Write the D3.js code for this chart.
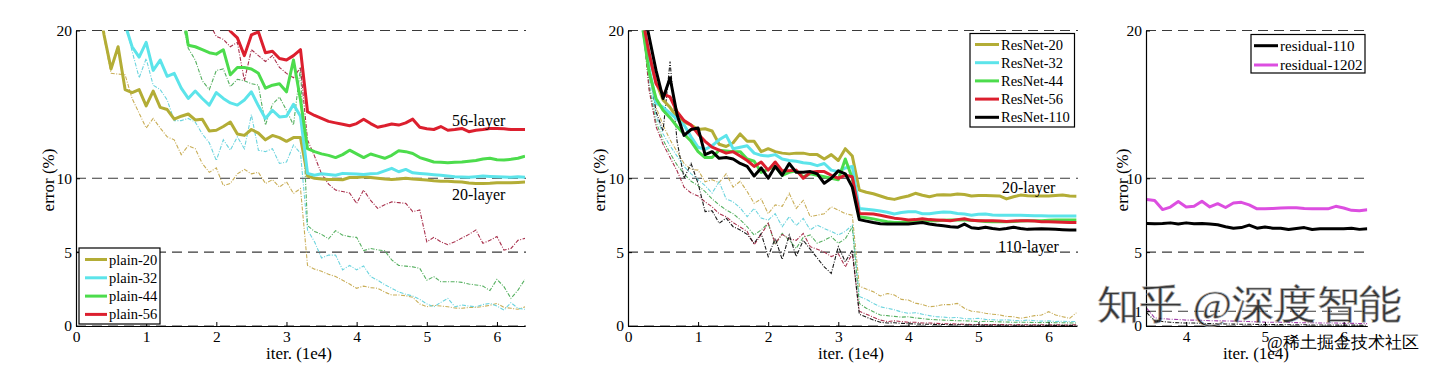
<!DOCTYPE html>
<html><head><meta charset="utf-8">
<script src="https://cdn.jsdelivr.net/npm/d3@7"></script>
<style>
body{margin:0;background:#fff}
svg{display:block}
text{font-family:"Liberation Serif","Times New Roman",serif;fill:#000}
</style>
</head><body>
<svg id="chart" width="1440" height="365"></svg>
<script>
// ---------- DATA ----------
const itersMain = [0.1,0.2,0.3,0.4,0.5,0.6,0.7,0.8,0.9,1.0,
  1.1,1.2,1.3,1.4,1.5,1.6,1.7,1.8,1.9,2.0,
  2.1,2.2,2.3,2.4,2.5,2.6,2.7,2.8,2.9,3.0,
  3.1,3.2,3.3,3.4,3.5,3.6,3.7,3.8,3.9,4.0,
  4.1,4.2,4.3,4.4,4.5,4.6,4.7,4.8,4.9,5.0,
  5.1,5.2,5.3,5.4,5.5,5.6,5.7,5.8,5.9,6.0,
  6.1,6.2,6.3,6.4];
const itersRight = [3.5,3.6,3.7,3.8,3.9,4.0,4.1,4.2,4.3,4.4,4.5,4.6,4.7,4.8,4.9,5.0,
  5.1,5.2,5.3,5.4,5.5,5.6,5.7,5.8,5.9,6.0,6.1,6.2,6.3];

const yTicksMain = [0,5,10,20];
const yTicksRight = [0,1,5,10,20];
const xTicksMain = [0,1,2,3,4,5,6];
const xTicksRight = [4,5,6];

// plain nets (left) — test error (thick) and training error (thin)
const plain20Test = [null,null,22.5,19.7,17.4,18.9,16.0,15.8,16.0,14.9,
  15.9,14.8,14.65,14.0,14.2,14.35,13.95,14.0,13.2,13.25,
  13.5,13.8,13.0,12.9,13.3,13.05,12.6,12.9,12.75,12.5,
  12.75,12.75,10.15,10.0,9.95,9.92,9.92,9.9,10.05,10.05,
  10.1,10.05,10.0,9.95,9.92,9.95,10.0,9.95,9.92,9.88,
  9.83,9.8,9.79,9.76,9.74,9.68,9.65,9.65,9.66,9.7,
  9.7,9.7,9.72,9.74];
const plain32Test = [null,null,null,null,null,null,20.4,18.9,18.2,19.2,
  17.3,18.0,16.9,17.1,16.1,15.4,15.9,15.4,14.95,15.8,
  15.4,15.1,14.95,15.3,15.85,14.9,14.05,14.6,14.15,14.2,
  15.0,14.2,10.33,10.2,10.3,10.25,10.2,10.33,10.3,10.28,
  10.25,10.3,10.33,10.5,10.67,10.44,10.6,10.37,10.32,10.28,
  10.24,10.2,10.15,10.1,10.08,10.06,10.1,10.15,10.12,10.1,
  10.08,10.06,10.1,10.06];
const plain44Test = [null,null,null,null,null,null,null,null,null,null,
  null,null,null,null,22.0,19.0,18.9,18.7,18.5,18.4,
  18.7,17.0,17.5,17.5,17.4,17.1,16.1,16.3,16.4,15.85,
  18.0,15.3,12.0,11.8,11.65,11.55,11.4,11.6,11.9,11.65,
  11.4,11.64,11.5,11.35,11.55,11.86,11.8,11.68,11.4,11.25,
  11.1,11.08,11.05,11.08,11.1,11.15,11.2,11.3,11.35,11.25,
  11.23,11.28,11.35,11.5];
const plain56Test = [null,null,null,null,null,null,null,null,null,null,
  null,null,null,null,null,null,null,null,null,null,
  20.8,19.95,19.5,18.3,19.7,19.9,18.5,18.6,18.1,18.0,
  18.3,18.7,14.5,14.25,14.05,13.85,13.75,13.65,13.55,13.7,
  14.0,13.7,13.45,13.55,13.67,13.6,13.75,14.0,13.45,13.35,
  13.3,13.5,13.25,13.3,13.37,13.15,13.25,13.3,13.37,13.37,
  13.35,13.3,13.3,13.3];
const plain20Train = [null,null,23,19.5,17.1,17.05,17.0,15.4,14.4,13.4,
  14.05,13.4,12.8,12.6,11.6,12.2,12.0,11.0,10.4,10.7,
  9.5,9.65,10.3,10.6,10.3,10.4,9.65,9.9,9.4,9.76,
  8.97,9.3,4.1,3.85,3.7,3.5,3.35,3.1,2.84,2.55,
  2.7,2.6,2.55,2.3,2.1,2.1,2.05,1.94,1.49,1.3,
  1.4,1.35,1.3,1.22,1.2,1.25,1.26,1.32,1.4,1.53,
  1.26,1.2,1.13,1.3];
const plain32Train = [null,null,null,null,null,22,20.5,18.6,16.8,18.1,
  16.3,16.0,15.3,13.9,13.9,14.05,13.8,13.0,12.4,11.2,
  12.6,11.9,12.8,12.0,14.3,11.9,11.8,12.0,11.0,11.1,
  12.25,11.7,6.5,5.7,4.6,4.8,4.8,3.8,4.1,3.8,
  4.06,3.34,3.1,2.8,2.55,2.3,2.15,2.03,1.8,1.5,
  1.3,1.6,1.87,1.3,1.42,1.35,1.3,1.45,1.53,1.35,
  1.08,1.58,1.2,1.13];
const plain44Train = [null,null,null,null,null,null,null,null,null,null,
  null,null,null,null,21,18.8,18.0,16.6,16.0,17.3,
  17.4,16.2,16.7,16.6,16.4,16.3,13.6,15.0,15.5,14.6,
  13.6,17.5,6.8,6.4,6.2,5.9,6.45,6.15,6.05,6.0,
  5.1,5.25,5.15,5.1,4.47,4.1,4.05,4.0,3.9,3.1,
  3.34,3.0,3.0,3.0,2.95,2.84,2.78,2.7,2.4,3.16,
  2.66,1.87,2.43,3.16];
const plain56Train = [null,null,null,null,null,null,null,null,null,null,
  null,null,null,null,null,null,null,null,20.5,19.6,
  19.4,18.9,19.2,16.6,18.7,18.3,17.9,18.3,17.5,17.1,
  16.8,17.5,12.6,11.5,10.3,9.6,9.2,9.1,9.0,8.3,
  9.2,8.5,7.96,8.2,8.4,8.35,8.3,7.74,7.85,5.7,
  6.0,5.7,5.5,5.7,5.95,6.2,6.5,5.6,5.8,6.05,
  5.14,5.25,5.8,5.93];

// ResNets (middle)
const res20Test = [null,20.5,18.3,16.5,15.3,14.8,14.1,13.8,13.6,13.3,
  13.35,13.2,12.3,12.15,12.4,13.0,12.5,12.5,11.8,12.0,
  11.8,11.7,11.65,11.7,11.7,11.6,11.6,11.3,11.6,11.2,
  12.0,11.5,9.2,9.05,8.95,8.8,8.65,8.57,8.7,8.8,
  8.98,8.85,8.75,8.86,8.88,8.86,8.93,8.9,8.8,8.84,
  8.84,8.82,8.8,8.6,8.75,8.86,8.82,8.8,8.8,8.8,
  8.84,8.86,8.8,8.78];
const res32Test = [null,20.5,17.5,15.1,14.8,14.4,14.0,13.6,12.8,12.1,
  11.95,12.2,12.6,12.9,12.0,12.1,12.2,11.7,11.55,11.5,
  11.6,11.3,11.2,11.15,11.05,11.0,10.85,11.0,10.55,10.45,
  10.7,10.8,7.96,7.9,7.85,7.78,7.7,7.58,7.68,7.74,
  7.74,7.6,7.6,7.67,7.72,7.7,7.62,7.58,7.5,7.56,
  7.58,7.52,7.5,7.5,7.5,7.5,7.48,7.46,7.46,7.44,
  7.44,7.44,7.44,7.44];
const res44Test = [null,20.5,17.2,15.4,14.6,14.1,13.5,13.0,12.5,11.8,
  11.4,11.4,11.9,11.85,11.8,11.8,11.3,11.15,10.4,10.6,
  10.8,10.2,10.4,10.5,10.1,10.3,10.2,10.1,10.0,9.9,
  11.3,10.0,7.4,7.32,7.25,7.15,7.05,7.0,7.02,7.06,
  7.1,7.13,7.13,7.13,7.15,7.17,7.17,7.17,7.15,7.13,
  7.08,7.06,7.06,7.06,7.08,7.1,7.13,7.13,7.13,7.15,
  7.17,7.17,7.17,7.17];
const res56Test = [null,21,18.5,16.4,15.7,15.5,14.5,13.9,13.6,13.0,
  12.5,12.1,11.9,11.7,11.8,11.5,11.2,10.8,11.1,10.55,
  11.1,10.5,10.5,10.55,10.0,10.4,10.45,10.45,10.2,10.0,
  10.2,10.1,7.62,7.6,7.58,7.5,7.4,7.3,7.25,7.18,
  7.2,7.26,7.2,7.17,7.15,7.13,7.2,7.26,7.15,7.13,
  7.13,7.12,7.1,7.08,7.1,7.13,7.13,7.1,7.06,7.06,
  7.04,7.02,7.0,7.0];
const res110Test = [null,22,19.6,17.3,15.4,16.8,14.3,12.9,13.3,13.4,
  11.6,11.8,11.35,11.4,11.3,11.0,10.8,10.15,10.7,10.0,
  10.8,10.2,11.0,10.4,10.4,10.45,10.3,9.66,10.0,10.5,
  10.3,9.4,7.2,7.1,7.0,6.92,6.9,6.9,6.9,6.9,
  6.95,7.0,6.9,6.83,6.78,6.72,6.68,6.9,6.65,6.6,
  6.68,6.6,6.54,6.6,6.68,6.6,6.54,6.56,6.59,6.56,
  6.54,6.52,6.5,6.5];
const res20Train = [null,21,17.0,14.8,13.6,12.6,11.8,11.0,10.6,10.55,
  9.76,9.9,9.7,10.3,9.4,9.8,9.1,8.3,8.6,7.6,
  8.2,8.1,8.98,7.96,8.5,7.4,7.5,7.6,8.07,7.85,
  7.6,7.5,2.7,2.5,2.32,2.03,2.2,2.1,1.8,1.76,
  1.55,1.45,1.3,1.35,1.45,1.45,1.53,1.2,1.0,0.95,
  0.86,0.8,0.75,0.65,0.63,0.52,0.6,0.7,0.74,0.97,
  0.75,0.63,0.52,0.9];
const res32Train = [null,21,16.5,14.2,13.0,12.2,11.5,10.8,10.3,9.9,
  9.5,9.0,9.76,8.6,8.4,8.0,7.4,7.96,7.3,7.17,
  7.6,6.72,7.4,6.8,7.28,6.5,6.83,6.6,6.4,6.16,
  6.4,6.83,2.0,1.8,1.53,1.3,1.2,1.1,0.95,0.86,
  0.9,0.8,0.7,0.63,0.6,0.55,0.58,0.5,0.48,0.52,
  0.45,0.42,0.4,0.42,0.38,0.35,0.4,0.36,0.33,0.35,
  0.3,0.32,0.3,0.3];
const res44Train = [null,21,16.2,13.8,12.6,11.7,10.9,10.3,9.8,9.5,
  9.1,8.6,8.2,7.85,7.6,7.2,6.72,6.16,6.5,6.95,
  5.5,6.27,5.8,5.25,6.0,6.16,5.6,5.8,6.05,5.6,
  5.9,6.7,1.53,1.2,0.97,0.74,0.7,0.65,0.6,0.63,
  0.55,0.5,0.45,0.42,0.4,0.38,0.36,0.35,0.33,0.3,
  0.32,0.3,0.28,0.27,0.25,0.26,0.25,0.24,0.23,0.25,
  0.22,0.22,0.21,0.2];
const res56Train = [null,21,16.0,13.5,12.3,11.4,10.5,9.4,9.0,8.8,
  8.4,8.07,7.6,7.4,7.0,6.7,6.4,5.5,6.2,6.95,
  5.6,6.2,5.9,5.8,6.27,5.37,5.2,5.0,4.7,4.9,
  4.0,4.9,1.0,0.8,0.6,0.4,0.3,0.35,0.3,0.25,
  0.25,0.2,0.2,0.18,0.15,0.15,0.13,0.12,0.1,0.1,
  0.1,0.09,0.1,0.09,0.08,0.09,0.08,0.08,0.08,0.07,
  0.08,0.07,0.07,0.08];
const res110Train = [null,22,17.5,14.5,13.2,17.9,12.5,10.0,11.0,9.65,
  7.74,7.8,6.95,7.3,6.72,6.5,6.2,5.6,6.27,4.7,
  5.93,4.5,6.16,4.7,5.8,5.2,4.6,4.0,3.56,5.37,
  4.35,5.14,0.8,0.6,0.4,0.25,0.2,0.22,0.18,0.15,
  0.14,0.12,0.12,0.1,0.1,0.09,0.08,0.08,0.07,0.07,
  0.06,0.06,0.06,0.05,0.05,0.05,0.05,0.05,0.04,0.04,
  0.04,0.04,0.04,0.04];

// residual-110 / residual-1202 (right)
const resid110Test = [6.94,6.92,6.94,6.98,6.9,6.98,6.92,6.94,6.9,6.85,6.72,6.62,6.66,6.83,6.62,6.7,
  6.62,6.62,6.53,6.6,6.66,6.53,6.58,6.58,6.58,6.58,6.62,6.54,6.58];
const resid1202Test = [8.56,8.5,7.88,8.05,8.42,8.06,8.1,8.44,8.06,8.28,8.02,8.33,8.37,8.2,7.93,7.93,
  7.96,7.99,8.0,8.01,7.95,7.93,7.93,7.93,8.1,7.99,7.83,7.8,7.87];
const resid110Train = [0.9,0.35,0.3,0.25,0.22,0.2,0.2,0.18,0.16,0.15,0.14,0.13,0.12,0.12,0.1,0.1,
  0.09,0.09,0.08,0.08,0.08,0.07,0.07,0.07,0.06,0.06,0.06,0.06,0.05];
const resid1202Train = [1.2,0.55,0.5,0.46,0.44,0.4,0.4,0.38,0.36,0.35,0.34,0.33,0.32,0.3,0.28,0.26,
  0.25,0.25,0.24,0.23,0.22,0.22,0.2,0.2,0.2,0.18,0.18,0.17,0.16];

const plainNames = ["plain-20","plain-32","plain-44","plain-56"];
const resNames = ["ResNet-20","ResNet-32","ResNet-44","ResNet-56","ResNet-110"];
const residNames = ["residual-110","residual-1202"];

// ---------- STYLE ----------
const COL = {c20:"#b3ad36", c32:"#5ce4ea", c44:"#4cdc4c", c56:"#dc1f2e", c110:"#000000", c1202:"#dc4ee0"};
const TCOL = {c20:"#c9ae58", c32:"#6cd4de", c44:"#56b060", c56:"#a8304c", c110:"#1a1a1a", c1202:"#a040a8"};

const svg = d3.select("#chart");
const Y0 = 326, Y20 = 30.5;

function drawPanel(cfg, idx) {
  const x = d3.scaleLinear().domain(cfg.xDomain).range(cfg.xRange);
  const y = d3.scaleLinear().domain([0,20]).range([Y0, Y20]);
  const g = svg.append("g");
  const clipId = "clip" + idx;
  svg.append("clipPath").attr("id", clipId).append("rect")
    .attr("x", cfg.xRange[0]).attr("y", Y20).attr("width", cfg.xRange[1]-cfg.xRange[0]).attr("height", Y0-Y20);

  // dashed grid
  g.selectAll("line.grid").data(cfg.yTicks).join("line").attr("class","grid")
    .attr("x1", cfg.xRange[0]).attr("x2", cfg.gridEnd)
    .attr("y1", d => y(d)).attr("y2", d => y(d))
    .attr("stroke", "#3a3a3a").attr("stroke-width", 1.1).attr("stroke-dasharray", "10,6");

  const line = d3.line().defined(d => d[1] != null).x(d => x(d[0])).y(d => y(d[1]));
  const lg = g.append("g").attr("clip-path", `url(#${clipId})`);
  cfg.train.forEach(s => {
    lg.append("path").datum(cfg.iters.map((t,i) => [t, s.v[i]]))
      .attr("d", line).attr("fill","none").attr("stroke", s.c)
      .attr("stroke-width", 1.1).attr("stroke-dasharray", "4,1.5,1,1.5");
  });
  cfg.test.forEach(s => {
    lg.append("path").datum(cfg.iters.map((t,i) => [t, s.v[i]]))
      .attr("d", line).attr("fill","none").attr("stroke", s.c)
      .attr("stroke-width", 3).attr("stroke-linejoin","round");
  });

  // axes
  const ax = g.append("g").attr("transform", `translate(${cfg.xRange[0]},0)`)
    .call(d3.axisLeft(y).tickValues(cfg.yTicks).tickSize(-4).tickSizeOuter(0).tickPadding(4).tickFormat(d3.format("d")));
  const bx = g.append("g").attr("transform", `translate(0,${Y0})`)
    .call(d3.axisBottom(x).tickValues(cfg.xTicks).tickSize(-4).tickSizeOuter(0).tickPadding(5).tickFormat(d3.format("d")));
  [ax,bx].forEach(a => {
    a.selectAll("path.domain").attr("stroke","#000").attr("stroke-width",1.2);
    a.selectAll(".tick line").attr("stroke","#000");
    a.selectAll("text").attr("font-size", 15.5).attr("font-family", '"Liberation Serif",serif').attr("fill","#000");
  });

  // titles
  g.append("text").attr("transform", `translate(${cfg.yTitleX},180) rotate(-90)`)
    .attr("text-anchor","middle").attr("dy","0.35em").attr("font-size",17).text("error (%)");
  g.append("text").attr("x", cfg.xTitleX).attr("y", 359).attr("text-anchor","middle")
    .attr("font-size",17).text("iter. (1e4)");

  // legend
  const L = cfg.legend;
  const lgd = g.append("g");
  lgd.append("rect").attr("x", L.x).attr("y", L.y).attr("width", L.w).attr("height", L.h)
    .attr("fill","#fff").attr("stroke","#000").attr("stroke-width",1.2);
  const items = lgd.selectAll("g.item").data(L.items).join("g").attr("class","item")
    .attr("transform", (d,i) => `translate(0,${L.y0 + i*L.dy})`);
  items.append("line").attr("x1", L.lx1).attr("x2", L.lx2).attr("y1",0).attr("y2",0)
    .attr("stroke", d => d.c).attr("stroke-width", 3);
  items.append("text").attr("x", L.tx).attr("y", 0).attr("dy","0.35em")
    .attr("font-size", L.fs).text(d => d.name);

  // annotations
  (cfg.notes || []).forEach(n => {
    g.append("text").attr("x", n.x).attr("y", n.y).attr("dy","0.35em").attr("font-size",16).text(n.t);
  });
}

drawPanel({
  xDomain:[0,6.4], xRange:[76,525], gridEnd:526, iters: itersMain,
  yTicks: yTicksMain, xTicks: xTicksMain, yTitleX: 48, xTitleX: 299,
  train: [
    {v: plain20Train, c: TCOL.c20}, {v: plain32Train, c: TCOL.c32},
    {v: plain44Train, c: TCOL.c44}, {v: plain56Train, c: TCOL.c56}],
  test: [
    {v: plain20Test, c: COL.c20}, {v: plain32Test, c: COL.c32},
    {v: plain44Test, c: COL.c44}, {v: plain56Test, c: COL.c56}],
  legend: {x:79, y:248, w:81, h:76, y0:259.5, dy:18.3, lx1:85, lx2:107, tx:109, fs:14.5,
    items: plainNames.map((n,i) => ({name:n, c:[COL.c20,COL.c32,COL.c44,COL.c56][i]}))},
  notes: [{x:452, y:120, t:"56-layer"}, {x:452, y:194, t:"20-layer"}]
}, 0);

drawPanel({
  xDomain:[0,6.4], xRange:[628,1076.6], gridEnd:1078, iters: itersMain,
  yTicks: yTicksMain, xTicks: xTicksMain, yTitleX: 599, xTitleX: 851,
  train: [
    {v: res20Train, c: TCOL.c20}, {v: res32Train, c: TCOL.c32},
    {v: res44Train, c: TCOL.c44}, {v: res56Train, c: TCOL.c56}, {v: res110Train, c: TCOL.c110}],
  test: [
    {v: res20Test, c: COL.c20}, {v: res32Test, c: COL.c32},
    {v: res44Test, c: COL.c44}, {v: res56Test, c: COL.c56}, {v: res110Test, c: COL.c110}],
  legend: {x:970, y:33.5, w:104.5, h:93.5, y0:44.5, dy:18.2, lx1:975, lx2:999, tx:1001, fs:14.5,
    items: resNames.map((n,i) => ({name:n, c:[COL.c20,COL.c32,COL.c44,COL.c56,COL.c110][i]}))},
  notes: [{x:1002, y:187, t:"20-layer"}, {x:998, y:246.5, t:"110-layer"}]
}, 1);

drawPanel({
  xDomain:[3.49,6.3], xRange:[1146,1367.3], gridEnd:1367.3, iters: itersRight,
  yTicks: yTicksRight, xTicks: xTicksRight, yTitleX: 1122, xTitleX: 1256,
  train: [{v: resid110Train, c: TCOL.c110}, {v: resid1202Train, c: TCOL.c1202}],
  test: [{v: resid110Test, c: COL.c110}, {v: resid1202Test, c: COL.c1202}],
  legend: {x:1251, y:34.5, w:114, h:38.5, y0:45.7, dy:19.3, lx1:1254, lx2:1278, tx:1280, fs:15,
    items: residNames.map((n,i) => ({name:n, c:[COL.c110,COL.c1202][i]}))},
  notes: []
}, 2);

// watermarks (part of the reference image)
svg.append("text").attr("x",1097).attr("y",318).attr("font-size",40)
  .attr("font-family",'"Noto Sans CJK SC",sans-serif').attr("fill","#d6d6d6").attr("fill-opacity",0.8)
  .attr("stroke","#b4b4b4").attr("stroke-width",0.8).attr("stroke-opacity",0.8)
  .attr("textLength",305).attr("lengthAdjust","spacingAndGlyphs").text("知乎 @深度智能");
svg.append("text").attr("x",1267).attr("y",348).attr("font-size",17)
  .attr("font-family",'"Noto Sans CJK SC",sans-serif').attr("fill","#a0a0a0")
  .text("@稀土掘金技术社区");
</script>
</body></html>
